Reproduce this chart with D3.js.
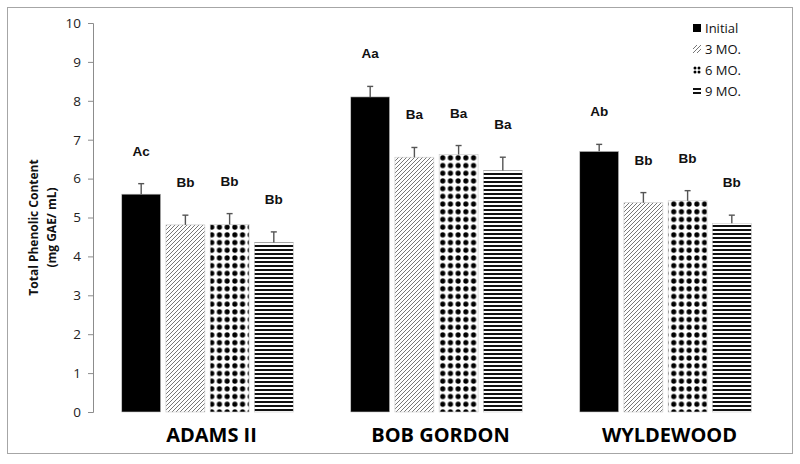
<!DOCTYPE html>
<html>
<head>
<meta charset="utf-8">
<script src="https://cdn.jsdelivr.net/npm/d3@7"></script>
<style>
	body { margin: 0; background: #ffffff; }
	svg { display: block; }
</style>
</head>
<body>
<svg id="svgarea" width="800" height="464"></svg>
<script>
const categories	= ['ADAMS II', 'BOB GORDON', 'WYLDEWOOD'];
const seriesNames	= ['Initial', '3 MO.', '6 MO.', '9 MO.'];
const yTicks		= [0, 1, 2, 3, 4, 5, 6, 7, 8, 9, 10];

// mean values, one per category
const initialValues	= [5.60, 8.10, 6.70];
const mo3Values		= [4.81, 6.55, 5.38];
const mo6Values		= [4.82, 6.62, 5.43];
const mo9Values		= [4.36, 6.21, 4.85];

// error bar heights (upper side only)
const initialErr	= [0.27, 0.27, 0.18];
const mo3Err		= [0.25, 0.25, 0.26];
const mo6Err		= [0.28, 0.23, 0.26];
const mo9Err		= [0.27, 0.34, 0.21];

// significance letters
const initialLetters	= ['Ac', 'Aa', 'Ab'];
const mo3Letters		= ['Bb', 'Ba', 'Bb'];
const mo6Letters		= ['Bb', 'Ba', 'Bb'];
const mo9Letters		= ['Bb', 'Ba', 'Bb'];

const fills = ['#000000', 'url(#pat-diag)', 'url(#pat-dots)', 'url(#pat-hlines)'];

// note: "top" is a reserved window property, hence the plot* names
var svg			= d3.select('#svgarea');
var plotLeft	= 93;
var plotRight	= 780;
var plotTop		= 23;
var plotBottom	= 412;

var values	= [initialValues, mo3Values, mo6Values, mo9Values];
var errors	= [initialErr, mo3Err, mo6Err, mo9Err];
var letters	= [initialLetters, mo3Letters, mo6Letters, mo9Letters];

var x0 = d3.scaleBand().domain(categories).range([plotLeft, plotRight]).padding(0);
var x1 = d3.scaleBand().domain(seriesNames).range([0, x0.bandwidth()]).paddingInner(0.12).paddingOuter(0.65);
var y = d3.scaleLinear().domain([0, 10]).range([plotBottom, plotTop]);

/**
 * Builds the fill patterns used by the bars and the legend
 */
function makePatterns(){
	var defs = svg.append('defs');
	// 3 MO. : thin diagonal stripes
	var p1 = defs.append('pattern').attr('id', 'pat-diag').attr('patternUnits', 'userSpaceOnUse').
		attr('width', 4).attr('height', 4);
	p1.append('rect').attr('width', 4).attr('height', 4).attr('fill', '#ffffff');
	p1.append('path').attr('d', 'M-1,1 L1,-1 M0,4 L4,0 M3,5 L5,3').
		attr('stroke', '#666666').attr('stroke-width', 0.9);
	// 6 MO. : black dots
	var p2 = defs.append('pattern').attr('id', 'pat-dots').attr('patternUnits', 'userSpaceOnUse').
		attr('width', 7.7).attr('height', 7.7);
	p2.append('rect').attr('width', 7.7).attr('height', 7.7).attr('fill', '#ffffff');
	p2.append('circle').attr('cx', 3.85).attr('cy', 3.85).attr('r', 2.6).attr('fill', '#000000');
	// 9 MO. : horizontal lines
	var p3 = defs.append('pattern').attr('id', 'pat-hlines').attr('patternUnits', 'userSpaceOnUse').
		attr('width', 4).attr('height', 4);
	p3.append('rect').attr('width', 4).attr('height', 4).attr('fill', '#ffffff');
	p3.append('rect').attr('y', 1).attr('width', 4).attr('height', 2).attr('fill', '#111111');
	// small dots for the legend swatch
	var p4 = defs.append('pattern').attr('id', 'pat-dots-small').attr('patternUnits', 'userSpaceOnUse').
		attr('width', 4).attr('height', 4);
	p4.append('rect').attr('width', 4).attr('height', 4).attr('fill', '#ffffff');
	p4.append('circle').attr('cx', 2).attr('cy', 2).attr('r', 1.5).attr('fill', '#000000');
}

/**
 * Draws the y axis and its title
 */
function drawAxis(){
	var axis = d3.axisLeft(y).tickValues(yTicks).tickSize(5).tickPadding(7).tickFormat(d3.format('d'));
	var g = svg.append('g').attr('transform', 'translate(' + plotLeft + ',0)').call(axis);
	g.select('.domain').attr('stroke', '#8c8c8c');
	g.selectAll('.tick line').attr('stroke', '#8c8c8c');
	g.selectAll('.tick text').
		attr('font-family', '"Open Sans", sans-serif').
		attr('font-size', 13.5).
		attr('fill', '#222222');

	var title = svg.append('text').
		attr('transform', 'translate(43,' + ((plotTop + plotBottom) / 2 + 10) + ') rotate(-90)').
		attr('text-anchor', 'middle').
		attr('font-family', '"Open Sans", sans-serif').
		attr('font-weight', 'bold').
		attr('font-size', 12).
		attr('fill', '#111111');
	title.append('tspan').attr('x', 0).attr('dy', '-0.4em').text('Total Phenolic Content');
	title.append('tspan').attr('x', 0).attr('dy', '1.5em').text('(mg GAE/ mL)');
}

/**
 * Draws bars, error bars and letters for every series
 */
function drawBars(){
	seriesNames.forEach(function(name, s){
		var g = svg.append('g');
		categories.forEach(function(cat, i){
			var bx = x0(cat) + x1(name);
			var bw = x1.bandwidth();
			var v = values[s][i];
			var e = errors[s][i];
			g.append('rect').
				attr('x', bx).
				attr('y', y(v)).
				attr('width', bw).
				attr('height', y(0) - y(v)).
				attr('fill', fills[s]).
				attr('stroke', '#c8c8c8').
				attr('stroke-width', 0.6);
			// error bar
			var cx = bx + bw / 2;
			g.append('line').
				attr('x1', cx).attr('x2', cx).
				attr('y1', y(v)).attr('y2', y(v + e)).
				attr('stroke', '#555555').attr('stroke-width', 1.4);
			g.append('line').
				attr('x1', cx - 3).attr('x2', cx + 3).
				attr('y1', y(v + e)).attr('y2', y(v + e)).
				attr('stroke', '#555555').attr('stroke-width', 1.4);
			// letters
			g.append('text').
				attr('x', cx).
				attr('y', y(v + e) - 28).
				attr('text-anchor', 'middle').
				attr('font-family', '"Liberation Sans", Arial, sans-serif').
				attr('font-weight', 'bold').
				attr('font-size', 13.5).
				attr('fill', '#111111').
				text(letters[s][i]);
		});
	});
}

/**
 * Draws the category names under the groups
 */
function drawCategories(){
	svg.append('g').selectAll('text').data(categories).join('text').
		attr('x', function(d){ return x0(d) + x0.bandwidth() / 2 + 4; }).
		attr('y', 442).
		attr('text-anchor', 'middle').
		attr('font-family', '"Open Sans", sans-serif').
		attr('font-weight', 'bold').
		attr('font-size', 20).
		attr('fill', '#000000').
		text(function(d){ return d; });
}

/**
 * Draws the legend in the upper right corner
 */
function drawLegend(){
	var swatches = ['#000000', 'url(#pat-diag)', 'url(#pat-dots-small)', 'url(#pat-hlines)'];
	var g = svg.append('g').attr('transform', 'translate(693,24)');
	var rows = g.selectAll('g').data(seriesNames).join('g').
		attr('transform', function(d, i){ return 'translate(0,' + (i * 21) + ')'; });
	rows.append('rect').
		attr('width', 8).attr('height', 8).
		attr('fill', function(d, i){ return swatches[i]; });
	rows.append('text').
		attr('x', 12).attr('y', 8.5).
		attr('font-family', '"Open Sans", sans-serif').
		attr('font-size', 13).
		attr('fill', '#111111').
		text(function(d){ return d; });
}

makePatterns();
// outer frame
svg.append('rect').attr('x', 7.5).attr('y', 7.5).attr('width', 785).attr('height', 446).
	attr('fill', 'none').attr('stroke', '#a6a6a6').attr('stroke-width', 1);
drawAxis();
drawBars();
drawCategories();
drawLegend();
</script>
</body>
</html>
